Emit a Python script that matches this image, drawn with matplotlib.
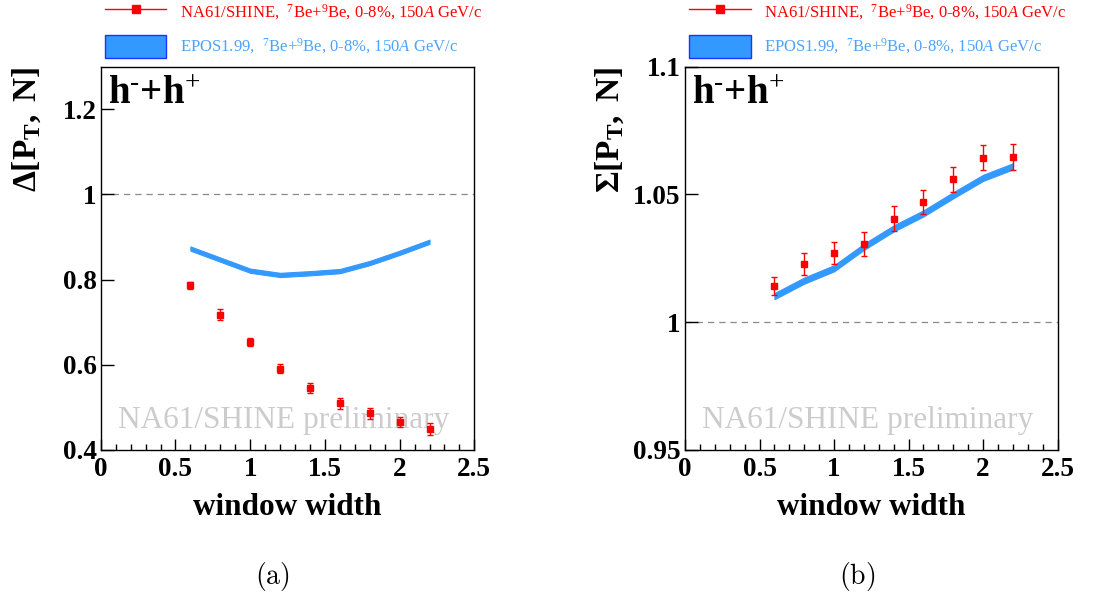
import matplotlib
matplotlib.use("Agg")
import matplotlib.pyplot as plt
from matplotlib.lines import Line2D
from matplotlib.patches import Patch
from matplotlib.ticker import MultipleLocator

plt.rcParams['font.family'] = 'Liberation Serif'
plt.rcParams['mathtext.fontset'] = 'custom'
plt.rcParams['mathtext.rm'] = 'Liberation Serif'
plt.rcParams['mathtext.it'] = 'Liberation Serif:italic'
plt.rcParams['mathtext.bf'] = 'Liberation Serif:bold'

# window widths (data points)
window = [0.6, 0.8, 1.0, 1.2, 1.4, 1.6, 1.8, 2.0, 2.2]

# Delta[PT, N]
delta_na61 = [0.787, 0.718, 0.654, 0.591, 0.546, 0.510, 0.486, 0.465, 0.450]
delta_na61_err = [0.008, 0.012, 0.010, 0.010, 0.012, 0.013, 0.013, 0.012, 0.014]
delta_epos = [0.873, 0.847, 0.821, 0.811, 0.815, 0.820, 0.839, 0.863, 0.889]
delta_epos_err = [0.005, 0.005, 0.005, 0.005, 0.005, 0.005, 0.005, 0.005, 0.005]

# Sigma[PT, N]
sigma_na61 = [1.0143, 1.0229, 1.0271, 1.0306, 1.0405, 1.0470, 1.0560, 1.0643, 1.0648]
sigma_na61_err = [0.0035, 0.0043, 0.0044, 0.0048, 0.0048, 0.0046, 0.0049, 0.0049, 0.0051]
sigma_epos = [1.0102, 1.0163, 1.0211, 1.0295, 1.0367, 1.0426, 1.0497, 1.0565, 1.0610]
sigma_epos_err = [0.0012, 0.0012, 0.0012, 0.0012, 0.0012, 0.0012, 0.0012, 0.0012, 0.0012]

RED = '#ff0000'
BAND = '#3399ff'
BAND_TEXT = '#4da3ff'

label_na61 = r'NA61/SHINE,  $^{7}$Be+$^{9}$Be, 0-8%, 150$\mathit{A}$ GeV/c'
label_epos = r'EPOS1.99,  $^{7}$Be+$^{9}$Be, 0-8%, 150$\mathit{A}$ GeV/c'
title = 'h$^{\u2010}$+h$^{+}$'

fig = plt.figure(figsize=(10.96, 5.96), dpi=100)
ax1 = fig.add_axes([0.0919, 0.2450, 0.3409, 0.6431])
ax2 = fig.add_axes([0.6250, 0.2450, 0.3400, 0.6431])


def draw_panel(ax, y_na, y_na_err, y_ep, y_ep_err, ylim, ymajor, ylabel, lab_x, tag, tag_x):
    lo = [c - e for c, e in zip(y_ep, y_ep_err)]
    hi = [c + e for c, e in zip(y_ep, y_ep_err)]
    ax.fill_between(window, lo, hi, color=BAND, lw=0.8, edgecolor=BAND, zorder=2)
    ax.errorbar(window, y_na, yerr=y_na_err, fmt='s', color=RED, ms=5,
                elinewidth=1.0, capsize=2.5, capthick=1.0, zorder=3)
    ax.axhline(1.0, color='#888888', lw=0.9, ls=(0, (5, 4)), zorder=1)

    ax.set_xlim(0, 2.5)
    ax.set_ylim(*ylim)
    ax.xaxis.set_major_locator(MultipleLocator(0.5))
    ax.xaxis.set_minor_locator(MultipleLocator(0.1))
    ax.yaxis.set_major_locator(MultipleLocator(ymajor))
    ax.tick_params(axis='both', which='both', direction='in', top=False, right=False)
    ax.tick_params(axis='y', which='major', length=9, width=1.0, pad=3, labelsize=19.5)
    ax.tick_params(axis='x', which='major', length=8, width=1.0, pad=5, labelsize=19.5)
    ax.tick_params(axis='x', which='minor', length=4, width=1.0)
    ax.yaxis.set_minor_locator(plt.NullLocator())
    ax.xaxis.set_major_formatter(plt.FuncFormatter(lambda v, p: f'{v:g}'))
    ax.yaxis.set_major_formatter(plt.FuncFormatter(lambda v, p: f'{v:g}'))
    for t in ax.get_xticklabels() + ax.get_yticklabels():
        t.set_fontweight('bold')
    for s in ax.spines.values():
        s.set_linewidth(1.0)

    ax.set_xlabel('window width', fontsize=22.5, fontweight='bold')
    ax.xaxis.set_label_coords(0.5, -0.15)
    ax.xaxis.label.set_va('center')

    ax.text(0.02, 0.975, title, transform=ax.transAxes, fontsize=28,
            fontweight='bold', va='top', ha='left')
    ax.text(0.046, 0.078, 'NA61/SHINE preliminary', transform=ax.transAxes,
            fontsize=22.5, color='#cccccc', va='center', ha='left', zorder=0)

    fig.text(lab_x, 1 - 67 / 596, ylabel, rotation=90, fontsize=24,
             ha='center', va='top')
    fig.text(tag_x, 0.032, r'$\mathrm{' + tag + '}$', fontsize=20,
             ha='center', va='center', math_fontfamily='cm')

    handles = [Line2D([], [], color=RED, lw=1.0, marker='s', ms=5.5),
               Patch(facecolor=BAND, edgecolor='#1a33ff', lw=1.0)]
    pos = ax.get_position()
    leg = fig.legend(handles, [label_na61, label_epos], loc='upper left',
                     bbox_to_anchor=(pos.x0 + 4 / 1096, 1 - 1 / 596),
                     frameon=False, fontsize=12, handlelength=3.7,
                     handleheight=1.7, handletextpad=0.8, labelspacing=0.7,
                     borderpad=0, borderaxespad=0)
    leg.get_texts()[0].set_color(RED)
    leg.get_texts()[1].set_color(BAND_TEXT)


draw_panel(ax1, delta_na61, delta_na61_err, delta_epos, delta_epos_err,
           (0.4, 1.3), 0.2, r'$\mathbf{\Delta[P_{T},\ N]}$', 27 / 1096, '(a)', 272 / 1096)
draw_panel(ax2, sigma_na61, sigma_na61_err, sigma_epos, sigma_epos_err,
           (0.95, 1.1), 0.05, r'$\mathbf{\Sigma[P_{T},\ N]}$', 610 / 1096, '(b)', 857 / 1096)

fig.savefig('out.png', dpi=100)
